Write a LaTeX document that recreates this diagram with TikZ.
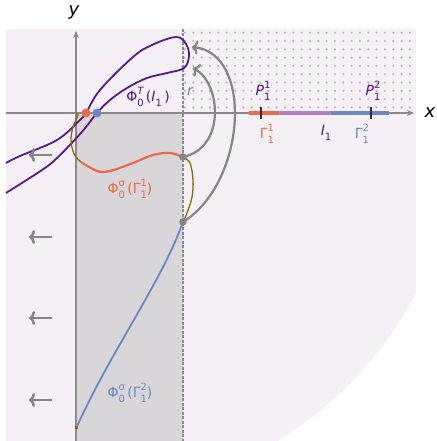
\documentclass[tikz,border=0pt]{standalone}
\usepackage{fontspec}
\setmainfont{DejaVu Sans}
\usepackage{tikz}
\usetikzlibrary{arrows.meta}
\definecolor{MapBack}{HTML}{F5F0F6}
\definecolor{MapShade}{HTML}{D9D6DA}
\definecolor{MapDot}{HTML}{BDBBC0}
\definecolor{MapAxis}{HTML}{8A8A8A}
\definecolor{MapGray}{HTML}{858585}
\definecolor{MapPurple}{HTML}{5A168C}
\definecolor{MapOrange}{HTML}{EC6A45}
\definecolor{MapBlue}{HTML}{6A89BE}
\definecolor{MapLilac}{HTML}{B283C2}
\definecolor{MapOlive}{HTML}{8C6B08}
\newcommand\sps[2]{\rlap{\raisebox{6.5pt}{\fontsize{10}{10}\selectfont #1}}\raisebox{-5.5pt}{\fontsize{10}{10}\selectfont #2}}

\begin{document}
\begin{tikzpicture}[x=1pt,y=1pt,
  lbl/.style={font=\fontsize{14}{16}\selectfont,inner sep=0pt},
  axlbl/.style={font=\fontsize{18}{20}\selectfont\itshape,inner sep=0pt},
  pt/.style={circle,inner sep=0pt,minimum size=9pt},
  swing/.style={MapGray,line width=2.2pt,-{Computer Modern Rightarrow[length=6pt,width=14pt]}},
  push/.style={MapGray,line width=2.5pt,-{Computer Modern Rightarrow[length=6pt,width=14pt]}}]
\useasboundingbox (-76,113) rectangle (360,-328);
% background and strip
\begin{scope}
\clip (0,0) circle (385);
\fill[MapBack] (-70,84) rectangle (340,-328);
\end{scope}
\fill[MapShade] (0,0) rectangle (107,-328);
\foreach \i in {0,...,27}
  \foreach \j in {0,...,9}
    \fill[MapDot] ({109+8.33*\i},{80.3-8.3*\j}) circle (1.3);
\draw[MapAxis,line width=1.2pt,dash pattern=on 3pt off 1.5pt] (107,84) -- (107,-328);
% axes
\draw[MapAxis,line width=1.2pt,-{Stealth[length=7pt,width=6pt]}] (-70,0) -- (338,0);
\draw[MapAxis,line width=1.2pt,-{Stealth[length=7pt,width=6pt]}] (0,-328) -- (0,82);
\node[axlbl] (xl) at (354,0) {x};
\node[axlbl] (yl) at (-2,101) {y};
% interval on the x axis
\draw[MapOrange,line width=4pt] (173,0) -- (203,0);
\draw[MapLilac,line width=4pt] (203,0) -- (255,0);
\draw[MapBlue,line width=4pt] (255,0) -- (313,0);
\draw[black!80,line width=1.1pt] (185,-6) -- (185,6);
\draw[black!80,line width=1.1pt] (295,-6) -- (295,6);
\node[lbl,MapPurple] (P1) at (187,22) {\textit{P}\sps{1}{1}};
\node[lbl,MapPurple] (P2) at (297,22) {\textit{P}\sps{2}{1}};
\node[lbl,MapOrange] (G1) at (191,-21) {Γ\sps{1}{1}};
\node[lbl,MapPurple] (I1) at (250,-20) {\textit{I}\raisebox{-5.5pt}{\fontsize{10}{10}\selectfont 1}};
\node[lbl,MapBlue] (G2) at (286,-21) {Γ\sps{2}{1}};
% image curves
\draw[MapPurple,line width=1.8pt] plot[smooth,tension=0.6] coordinates {
  (-70,-50) (-56,-43) (-19,-27) (4,-7) (10,0) (24,23) (57,56) (76,68) (100,76)
  (110,69) (113,57) (108,45) (91,40) (71,35) (51,25) (34,13) (21,0) (5,-20)
  (-19,-45) (-34,-57) (-70,-80)};
\draw[MapOlive,line width=1.3pt] plot[smooth,tension=0.6] coordinates {
  (0,0) (2,-1.5) (1,-5) (-3,-14) (-5,-27) (-2,-41) (5,-49)};
\draw[MapOrange,line width=2.2pt] plot[smooth,tension=0.6] coordinates {
  (5,-49) (21,-58) (34,-58) (57,-50) (77,-42) (94,-40) (107,-44)};
\draw[MapOlive,line width=1.3pt] plot[smooth,tension=0.6] coordinates {
  (107,-44) (114,-50) (117,-67) (116,-84) (111,-100) (107,-109)};
\draw[MapBlue,line width=1.8pt] (107,-109) .. controls (85,-170) and (35,-238) .. (0.7,-314);
\fill[MapOlive] (-0.8,-315.5) rectangle (1.8,-312.5);
% marked points
\node[pt,fill=MapOrange] (pA) at (10,0) {};
\node[pt,fill=MapBlue] (pB) at (21,0) {};
\node[pt,fill=MapGray,minimum size=7.5pt] (d1) at (107,-44) {};
\node[pt,fill=MapGray,minimum size=7.5pt] (d2) at (107,-109) {};
\coordinate (tA) at (117,45);
\coordinate (tB) at (116,66);
\draw[swing] (d1.center) .. controls (150,-35) and (145,30) .. (tA);
\draw[swing] (d2.center) .. controls (170,-70) and (178,60) .. (tB);
\node[lbl,MapGray,font=\fontsize{14}{16}\selectfont\itshape] (rl) at (114,21) {r};
% labels of the curves
\node[lbl,MapPurple] (phiT) at (72,16) {Φ\sps{\itshape T}{0}\,(\textit{I}\raisebox{-5.5pt}{\fontsize{10}{10}\selectfont 1}\,)};
\node[lbl,MapOrange] (phiA) at (54,-76) {Φ\sps{σ}{0}\,(Γ\sps{1}{1})};
\node[lbl,MapBlue] (phiB) at (54,-280) {Φ\sps{σ}{0}\,(Γ\sps{2}{1})};
% pushes to the left
\foreach \y [count=\k] in {-42,-124,-205,-287} {
  \coordinate (s\k) at (-24,\y);
  \coordinate (e\k) at (-47,\y);
  \draw[push] (s\k) -- (e\k);
}
\end{tikzpicture}
\end{document}
